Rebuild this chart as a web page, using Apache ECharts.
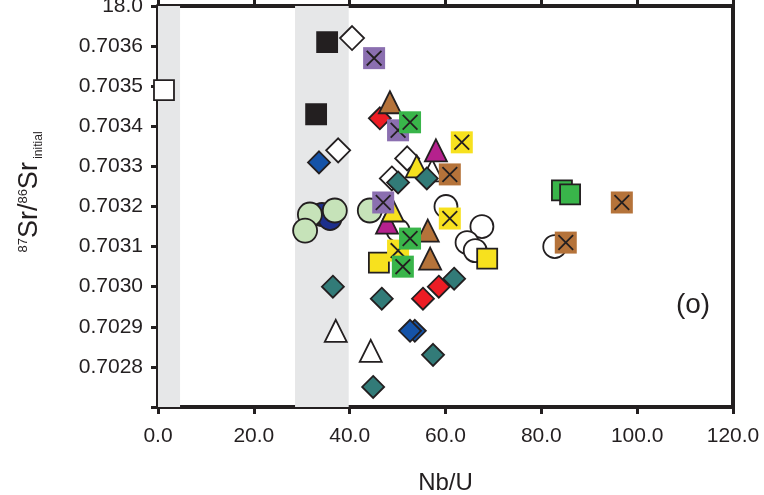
<!DOCTYPE html>
<html>
<head>
<meta charset="utf-8">
<script src="https://cdn.jsdelivr.net/npm/echarts@6/dist/echarts.min.js"></script>
<style>
  html, body { margin: 0; padding: 0; background: #fff; }
  #chart { width: 764px; height: 495px; }
</style>
</head>
<body>
<div id="chart"></div>
<script>
// [Nb/U, 87Sr/86Sr initial]
var darkBlueCircles = [[34.2, 0.70318], [35.9, 0.70317]];
var lightGreenCircles = [[31.7, 0.70318], [36.9, 0.70319], [30.7, 0.70314], [44.2, 0.70319]];
var whiteCircles = [[50.1, 0.70314], [60.1, 0.70320], [67.6, 0.70315], [64.5, 0.70311], [66.2, 0.70309], [82.8, 0.70310]];
var whiteDiamonds = [[40.5, 0.70362], [37.6, 0.70334], [52.0, 0.70332], [48.8, 0.70327]];
var whiteTriangles = [[57.2, 0.70329], [37.1, 0.70289], [44.4, 0.70284]];
var magentaTriangles = [[58.0, 0.70334], [47.8, 0.70316]];
var yellowTriangles = [[54.0, 0.70330], [49.0, 0.70319]];
var tealDiamonds = [[50.1, 0.70326], [56.1, 0.70327], [36.5, 0.70300], [46.7, 0.70297], [61.8, 0.70302], [57.4, 0.70283], [44.9, 0.70275]];
var blueDiamonds = [[33.6, 0.70331], [53.6, 0.70289], [52.6, 0.70289]];
var redDiamonds = [[46.3, 0.70342], [55.3, 0.70297], [58.6, 0.70300]];
var brownTriangles = [[48.4, 0.70346], [56.3, 0.70314], [56.8, 0.70307]];
var yellowSquares = [[46.1, 0.70306], [68.7, 0.70307]];
var greenSquares = [[84.3, 0.70324], [86.0, 0.70323]];
var blackSquares = [[35.3, 0.70361], [33.0, 0.70343]];
var whiteSquares = [[1.25, 0.70349]];
var brownX = [[60.9, 0.70328], [96.8, 0.70321], [85.1, 0.70311]];
var yellowX = [[63.4, 0.70336], [60.9, 0.70317], [50.1, 0.70309]];
var purpleX = [[45.1, 0.70357], [50.1, 0.70339], [47.0, 0.70321]];
var greenX = [[52.6, 0.70341], [52.6, 0.70312], [51.1, 0.70305]];

var xTicks = [0, 20, 40, 60, 80, 100, 120];
var greyBands = [[0, 4.6], [28.6, 39.8]];

var ink = '#231f20';
var crossPath = 'path://M0,8L8,0L50,42L92,0L100,8L58,50L100,92L92,100L50,58L8,100L0,92L42,50Z';

function pts(name, data, symbol, size, fill, stroke) {
  return {
    name: name, type: 'scatter', data: data, symbol: symbol, symbolSize: size, z: 2,
    itemStyle: { color: fill, borderColor: stroke ? ink : 'transparent', borderWidth: stroke ? 1.8 : 0, opacity: 1 },
    emphasis: { disabled: true }
  };
}
function crossed(name, data, fill) {
  return [pts(name, data, 'rect', 22, fill, false), pts(name + ' x', data, crossPath, 16, ink, false)];
}

var chart = echarts.init(document.getElementById('chart'));
var series = [
  {
    type: 'scatter', data: [], z: 1, silent: true,
    markArea: {
      silent: true,
      itemStyle: { color: '#e6e7e8' },
      data: greyBands.map(function (b) { return [{ xAxis: b[0] }, { xAxis: b[1] }]; })
    }
  },
  pts('darkblue', darkBlueCircles, 'circle', 23, '#1d2f8c', true),
  pts('lightgreen', lightGreenCircles, 'circle', 24, '#c6e3b9', true),
  pts('whitecircle', whiteCircles, 'circle', 23, '#ffffff', true),
  pts('whitediamond', whiteDiamonds, 'diamond', 24, '#ffffff', true),
  pts('whitetriangle', whiteTriangles, 'triangle', 22, '#ffffff', true),
  pts('magenta', magentaTriangles, 'triangle', 22, '#b5218d', true),
  pts('yellowtri', yellowTriangles, 'triangle', 22, '#f7e11e', true),
  pts('teal', tealDiamonds, 'diamond', 22, '#327b78', true),
  pts('blue', blueDiamonds, 'diamond', 22, '#1553a8', true),
  pts('red', redDiamonds, 'diamond', 22, '#ed1c24', true),
  pts('browntri', brownTriangles, 'triangle', 22, '#b5733a', true),
  pts('yellowsq', yellowSquares, 'rect', 20, '#f7e11e', true),
  pts('greensq', greenSquares, 'rect', 20, '#39b54a', true),
  pts('blacksq', blackSquares, 'rect', 20, ink, true),
  pts('whitesq', whiteSquares, 'rect', 20, '#ffffff', true)
]
  .concat(crossed('brownx', brownX, '#b5733a'))
  .concat(crossed('yellowx', yellowX, '#f7e11e'))
  .concat(crossed('purplex', purpleX, '#8b6fb0'))
  .concat(crossed('greenx', greenX, '#39b54a'));

var axisLine = { show: true, onZero: false, lineStyle: { color: ink, width: 4 } };

chart.setOption({
  animation: false,
  grid: { left: 158, right: 31, top: 6, bottom: 88, outerBoundsMode: 'none' },
  xAxis: [
    {
      type: 'value', min: 0, max: 120, interval: 20,
      axisLine: axisLine,
      axisTick: { show: true, length: 7, lineStyle: { color: ink, width: 3 } },
      axisLabel: {
        fontSize: 21, color: ink, margin: 19, fontFamily: 'Liberation Sans',
        customValues: xTicks,
        formatter: function (v) { return v.toFixed(1); }
      },
      splitLine: { show: false },
      name: 'Nb/U', nameLocation: 'middle', nameGap: 64,
      nameTextStyle: { fontSize: 24, color: ink, fontFamily: 'Liberation Sans' }
    },
    {
      type: 'value', position: 'top', min: 0, max: 120, interval: 20,
      axisLine: axisLine,
      axisTick: { show: true, length: 7, lineStyle: { color: ink, width: 3 } },
      axisLabel: { show: false }, splitLine: { show: false }
    }
  ],
  yAxis: [
    {
      type: 'value', min: 0.7027, max: 0.7037, interval: 0.0001,
      axisLine: axisLine,
      axisTick: { show: true, length: 7, lineStyle: { color: ink, width: 3 } },
      axisLabel: {
        fontSize: 21, color: ink, margin: 15, fontFamily: 'Liberation Sans',
        formatter: function (v) {
          var s = v.toFixed(4);
          if (s === '0.7037') return '18.0';
          if (s === '0.7027') return '';
          return s;
        }
      },
      splitLine: { show: false }
    },
    {
      type: 'value', position: 'right', min: 0.7027, max: 0.7037, interval: 0.0001,
      axisLine: axisLine, axisTick: { show: false }, axisLabel: { show: false }, splitLine: { show: false }
    }
  ],
  graphic: [
    {
      type: 'text', x: 30, y: 192, rotation: Math.PI / 2,
      style: {
        text: '{sup|87}{big|Sr/}{sup|86}{big|Sr}{sub| initial}',
        align: 'center', verticalAlign: 'middle', fill: ink,
        fontFamily: 'Liberation Sans',
        rich: {
          big: { fontSize: 27, lineHeight: 30, fontFamily: 'Liberation Sans', fill: ink },
          sup: { fontSize: 13, lineHeight: 30, verticalAlign: 'top', padding: [2, 0, 0, 0], fontFamily: 'Liberation Sans', fill: ink },
          sub: { fontSize: 12, lineHeight: 30, verticalAlign: 'bottom', fontFamily: 'Liberation Sans', fill: ink }
        }
      }
    },
    {
      type: 'text', x: 693, y: 305,
      style: { text: '(o)', fontSize: 28, fill: ink, align: 'center', verticalAlign: 'middle', fontFamily: 'Liberation Sans' }
    }
  ],
  series: series
});
</script>
</body>
</html>
